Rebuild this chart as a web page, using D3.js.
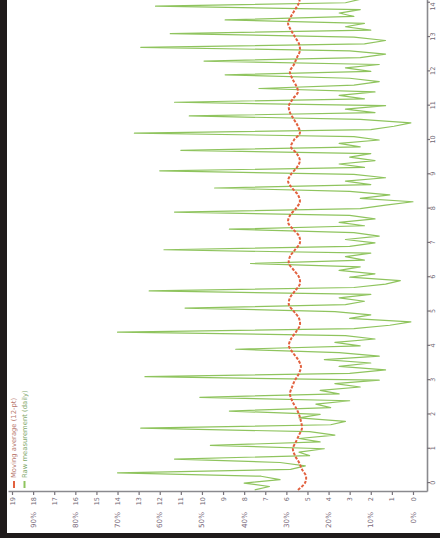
<!DOCTYPE html>
<html><head><meta charset="utf-8">
<script src="https://cdn.jsdelivr.net/npm/d3@7"></script>
<style>html,body{margin:0;padding:0;background:#fff;overflow:hidden}</style>
</head><body>
<svg id="chart" width="440" height="538"></svg>
<script>
// ---- data ----
const timeTicks = [0,1,2,3,4,5,6,7,8,9,10,11,12,13,14];
const timeTickLabels = ["0","1","2","3","4","5","6","7","8","9","10","11","12","13","14"];
const valueTicks = [0,1,2,3,4,5,6,7,8,9,10,11,12,13,14,15,16,17,18,19];
const valueTickLabels = ["0","1","2","3","4","5","6","7","8","9","10","11","12","13","14","15","16","17","18","19"];
const valueMajorTicks = [0,2,4,6,8,10,12,14,16,18];
const valueMajorLabels = ["0%","10%","20%","30%","40%","50%","60%","70%","80%","90%"];
const seriesNames = ["Moving average (12-pt)", "Raw measurement (daily)"];
const seriesColors = ["#e2613f", "#8fc45e"];

const greenStart = -0.2, greenStep = 0.1;
const greenValues = [
 7.5,6.8,8.0,6.3,7.2,14.0,5.8,5.1,6.3,11.3,4.9,5.4,
 4.2,9.6,4.4,5.4,3.7,4.9,12.9,3.9,3.2,5.4,4.4,8.7,
 3.9,4.6,3.0,10.1,3.5,4.4,2.5,3.7,1.6,12.7,3.0,1.3,
 3.5,2.0,4.2,1.6,3.5,8.4,2.5,3.7,1.8,3.2,14.0,2.8,
 1.1,0.1,3.0,2.0,3.7,10.8,3.2,2.3,3.5,2.0,12.5,2.8,
 1.3,0.6,3.0,1.8,3.5,2.5,7.7,2.3,3.2,2.0,11.8,3.0,
 1.8,3.2,1.6,2.8,8.7,2.3,3.5,1.8,3.0,11.3,2.5,1.3,
 0.0,2.5,1.1,3.0,9.4,2.0,3.2,1.3,2.8,12.0,2.3,3.5,
 1.8,3.0,2.0,11.0,2.5,3.5,1.6,2.8,13.2,2.0,0.9,0.1,
 2.5,10.6,1.8,3.2,1.3,11.3,2.3,3.5,1.8,7.3,2.8,1.6,
 3.0,8.9,2.0,3.2,1.6,9.9,2.5,1.3,3.0,12.9,2.3,1.3,
 2.8,11.5,2.0,3.2,2.3,8.9,2.8,3.5,2.5,12.2,3.2,2.5];

const redStart = -0.2, redStep = 0.2;
const redValues = [
 5.45,5.12,5.07,5.26,5.40,5.59,5.69,5.55,5.40,5.26,5.31,5.40,
 5.55,5.73,5.83,5.73,5.59,5.40,5.31,5.45,5.69,5.88,5.78,5.55,
 5.36,5.40,5.64,5.88,5.83,5.59,5.36,5.40,5.64,5.88,5.83,5.59,
 5.36,5.40,5.69,5.92,5.83,5.55,5.36,5.45,5.73,5.92,5.78,5.50,
 5.36,5.50,5.78,5.64,5.36,5.45,5.64,5.83,5.88,5.69,5.45,5.55,
 5.73,5.83,5.64,5.50,5.36,5.40,5.59,5.78,5.92,5.78,5.59,5.40,
 5.36];

// ---- layout (chart is drawn rotated by -90deg) ----
const plotLeft = 8, plotRight = 427, plotBottom = 492, plotTop = 0;
const W = plotBottom - plotTop;
const H = plotRight - plotLeft;
const font = "DejaVu Sans, sans-serif";

const svg = d3.select("#chart");
svg.append("rect").attr("width",440).attr("height",538).attr("fill","#ffffff");

const g = svg.append("g").attr("transform", `translate(${plotLeft},${plotBottom}) rotate(-90)`);

const x = d3.scaleLinear().domain([-0.26, 14.08]).range([0, W]);
const y = d3.scaleLinear().domain([-0.664, 19.19]).range([H, 0]);

const greenData = greenValues.map((v,i)=>({t: greenStart + i*greenStep, v}));
const redData = redValues.map((v,i)=>({t: redStart + i*redStep, v}));

const line = d3.line().x(d=>x(d.t)).y(d=>y(d.v));

g.append("path").datum(greenData).attr("d", line)
  .attr("fill","none").attr("stroke", seriesColors[1]).attr("stroke-width",1.2)
  .attr("stroke-linejoin","round");
g.append("path").datum(redData).attr("d", d3.line().curve(d3.curveCatmullRom).x(d=>x(d.t)).y(d=>y(d.v)))
  .attr("fill","none").attr("stroke", seriesColors[0]).attr("stroke-width",2)
  .attr("stroke-dasharray","3,1.5");

// time axis (right side on screen)
const ax = g.append("g").attr("transform", `translate(0,${H})`)
  .call(d3.axisBottom(x).tickValues(timeTicks).tickFormat((d,i)=>timeTickLabels[i])
    .tickSize(3).tickPadding(0).tickSizeOuter(0));
ax.selectAll(".tick text").filter((d,i,n)=>i===n.length-1).attr("text-anchor","end");
// value axis (bottom on screen)
const ay = g.append("g")
  .call(d3.axisLeft(y).tickValues(valueTicks).tickFormat((d,i)=>valueTickLabels[i])
    .tickSize(3).tickPadding(2).tickSizeOuter(0));
[ax, ay].forEach(a=>{
  a.select(".domain").attr("stroke","#8a8a8e").attr("stroke-width",1.6);
  a.selectAll(".tick line").attr("stroke","#77727a").attr("stroke-width",1.2);
  a.selectAll(".tick text").attr("fill","#6e6672").attr("font-family",font).attr("font-size",6.5);
});
// secondary labels row
g.append("g").selectAll("text").data(valueMajorTicks).join("text")
  .attr("x",-20).attr("y",d=>y(d)).attr("dy","0.35em").attr("text-anchor","end")
  .attr("font-family",font).attr("font-size",7.2).attr("fill","#7b6a7c")
  .text((d,i)=>valueMajorLabels[i]);

// legend (top-left in chart coordinates)
const leg = g.append("g").attr("transform","translate(4,0)");
seriesNames.forEach((name,i)=>{
  const yy = 6 + i*10.5;
  leg.append("line").attr("x1",0).attr("x2",7).attr("y1",yy).attr("y2",yy)
    .attr("stroke",seriesColors[i]).attr("stroke-width",2);
  leg.append("text").attr("x",10).attr("y",yy).attr("dy","0.35em")
    .attr("font-family",font).attr("font-size",6.8)
    .attr("fill", i===0 ? "#b8786e" : "#7fa86a").text(name);
});

// dark frame
svg.append("rect").attr("x",0).attr("y",0).attr("width",7).attr("height",538).attr("fill","#1f1b1b");
svg.append("rect").attr("x",0).attr("y",533).attr("width",440).attr("height",5).attr("fill","#1f1b1b");
</script>
</body></html>
